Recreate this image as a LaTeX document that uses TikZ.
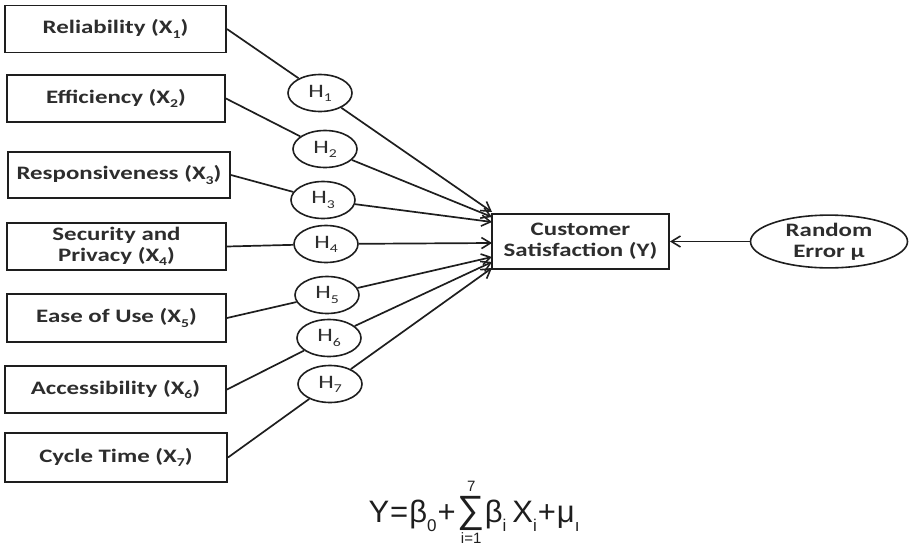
\documentclass[tikz,border=0pt]{standalone}
\usepackage{fontspec}
\setmainfont[FakeStretch=1.31]{Carlito}
\newfontfamily\eqfont{Liberation Sans}
\usetikzlibrary{arrows.meta,shapes.geometric}
\definecolor{ink}{RGB}{30,30,30}
\definecolor{txt}{RGB}{45,45,45}
\tikzset{
  factor/.style={draw=ink, line width=1.9pt, rectangle, inner sep=0pt,
    font=\fontsize{19}{21}\selectfont\bfseries, text=txt, align=center},
  hyp/.style={draw=ink, line width=1.6pt, ellipse, minimum width=64pt,
    minimum height=37pt, inner sep=0pt, font=\fontsize{19}{20}\selectfont, text=txt},
  link/.style={draw=ink, line width=1.7pt},
  flow/.style={link, -{Straight Barb[length=9pt,width=11pt,line width=1.6pt]}},
}
\newcommand{\lowsub}[1]{\raisebox{-0.22em}{\fontsize{12}{12}\selectfont #1}}
\newcommand{\eqsub}[1]{\raisebox{-0.3em}{\fontsize{17}{17}\selectfont #1}}
\begin{document}
\begin{tikzpicture}[x=1pt,y=-1pt]
\useasboundingbox (0,0) rectangle (909,546);

% explanatory factors
\node[factor, minimum width=221pt, minimum height=47pt] (b1) at (115.5,29)  {Reliability (X\lowsub{1})};
\node[factor, minimum width=218pt, minimum height=47pt] (b2) at (116,98.5)  {Efficiency (X\lowsub{2})};
\node[factor, minimum width=222pt, minimum height=46pt] (b3) at (119,175)   {Responsiveness (X\lowsub{3})};
\node[factor, minimum width=219pt, minimum height=47pt] (b4) at (116.5,246.5) {Security and\\Privacy (X\lowsub{4})};
\node[factor, minimum width=219pt, minimum height=48pt] (b5) at (116.5,318) {Ease of Use (X\lowsub{5})};
\node[factor, minimum width=221pt, minimum height=47pt] (b6) at (115.5,389.5) {Accessibility (X\lowsub{6})};
\node[factor, minimum width=222pt, minimum height=49pt] (b7) at (116,457.5) {Cycle Time (X\lowsub{7})};

% hypotheses
\node[hyp] (h1) at (320,93)  {H\lowsub{1}};
\node[hyp] (h2) at (325,149) {H\lowsub{2}};
\node[hyp] (h3) at (323,200) {H\lowsub{3}};
\node[hyp] (h4) at (326,244) {H\lowsub{4}};
\node[hyp] (h5) at (327,295) {H\lowsub{5}};
\node[hyp] (h6) at (329,338) {H\lowsub{6}};
\node[hyp] (h7) at (330,384) {H\lowsub{7}};

% dependent variable and error term
\node[factor, minimum width=177pt, minimum height=55pt] (cs) at (580.5,241.5) {Customer\\Satisfaction (Y)};
\node[draw=ink, line width=1.6pt, ellipse, minimum width=157pt, minimum height=47pt,
  inner sep=0pt, font=\fontsize{19}{21}\selectfont\bfseries, text=txt, align=center]
  (err) at (829,241.5) {Random\\Error μ};

% arrow heads on the left side of the dependent box
\coordinate (in1) at (492,212);
\coordinate (in2) at (492,217);
\coordinate (in3) at (492,222);
\coordinate (in4) at (492,243);
\coordinate (in5) at (492,257);
\coordinate (in6) at (492,262);
\coordinate (in7) at (492,268);

\foreach \k in {1,...,7}{
  \draw[link] (b\k.east) -- (h\k);
  \draw[flow] (h\k) -- (in\k);
}
\draw[flow] (err) -- (cs.east |- err);

% regression equation
\node[font=\eqfont\fontsize{31}{33}\selectfont, text=ink, inner sep=0pt] (eq) at (474,512)
  {Y\kern1pt=\kern1ptβ\eqsub{0}\kern1pt+\kern2pt$\mathop{\hbox{\fontsize{38}{38}\selectfont ∑}}\limits^{\raisebox{3pt}{\fontsize{15}{15}\selectfont 7}}_{\hbox{\fontsize{15}{15}\selectfont i=1}}$β\eqsub{i}\kern6pt X\eqsub{i}\kern1pt+\kern1ptμ\eqsub{ı}};
\end{tikzpicture}
\end{document}
